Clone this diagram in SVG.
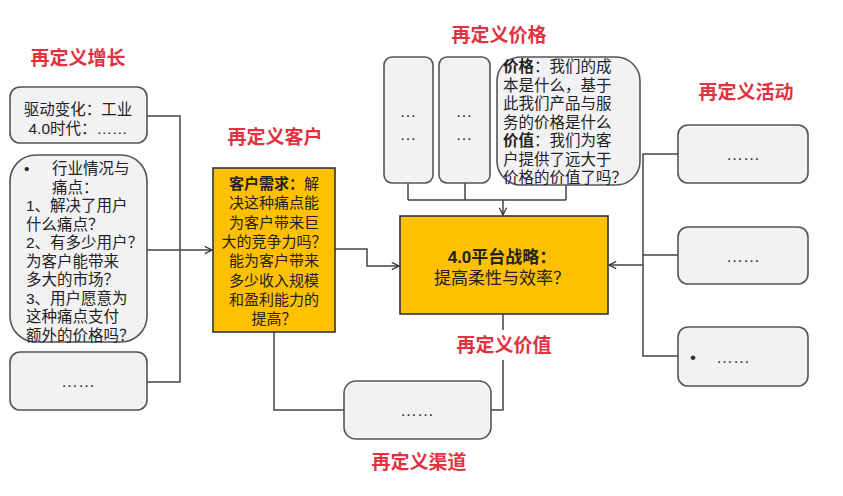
<svg xmlns="http://www.w3.org/2000/svg" width="843" height="496" viewBox="0 0 843 496">
<defs>
<marker id="arr" viewBox="0 0 10 10" refX="9" refY="5" markerWidth="9" markerHeight="9" markerUnits="userSpaceOnUse" orient="auto">
<path d="M1,1 L9,5 L1,9" fill="none" stroke="#333" stroke-width="1.4"/>
</marker>
<style>
.t{font-family:"Liberation Sans","Noto Sans CJK SC",sans-serif;font-size:19px;font-weight:bold;fill:#E3323F;text-anchor:middle}
.box{fill:#F2F2F4;stroke:#555;stroke-width:1.6}
.ybox{fill:#FFC000;stroke:#333;stroke-width:1.6}
.tx{font-family:"Liberation Sans","Noto Sans CJK SC",sans-serif;font-size:15px;fill:#222}
.b{font-weight:bold}
.dots{font-family:"Liberation Sans",sans-serif;font-size:17px;fill:#333;text-anchor:middle}
.ln{fill:none;stroke:#444;stroke-width:1.5}
</style>
</defs>
<rect width="843" height="496" fill="#fff"/>

<g id="titles">
<text class="t" x="78" y="65">再定义增长</text>
<text class="t" x="275" y="144">再定义客户</text>
<text class="t" x="499" y="42">再定义价格</text>
<text class="t" x="746" y="99">再定义活动</text>
<text class="t" x="504" y="352">再定义价值</text>
<text class="t" x="419" y="469">再定义渠道</text>
</g>

<g id="connectors">
<path class="ln" d="M147,116 H180 V382 H147"/>
<path class="ln" d="M147,250 H180"/>
<path class="ln" d="M180,250 H212" marker-end="url(#arr)"/>
<path class="ln" d="M335,249 H367 V266 H399" marker-end="url(#arr)"/>
<path class="ln" d="M408,183 V200 M465,183 V200 M566,185 V200 M408,200 H566"/>
<path class="ln" d="M503,200 V215" marker-end="url(#arr)"/>
<path class="ln" d="M678,154 H643 V356 H678 M643,255 H678"/>
<path class="ln" d="M643,265 H609" marker-end="url(#arr)"/>
<path class="ln" d="M274,332 V410 H344"/>
<path class="ln" d="M491,410 H503 V360 M503,330 V314"/>
</g>

<g id="growth1">
<rect class="box" x="10" y="87" width="137" height="56" rx="10"/>
<text class="tx" text-anchor="middle" style="font-size:15.5px"><tspan x="78" y="115">驱动变化：工业</tspan><tspan x="78" y="134">4.0时代：……</tspan></text>
</g>

<g id="growth2">
<rect class="box" x="10" y="155" width="137" height="187" rx="26"/>
<text class="tx" style="font-size:15.5px"><tspan x="24" y="174">•</tspan><tspan x="52" y="174">行业情况与</tspan><tspan x="52" y="192.5">痛点：</tspan><tspan x="26" y="211">1、解决了用户</tspan><tspan x="26" y="229.5">什么痛点？</tspan><tspan x="26" y="248">2、有多少用户？</tspan><tspan x="26" y="266.5">为客户能带来</tspan><tspan x="26" y="285">多大的市场？</tspan><tspan x="26" y="303.5">3、用户愿意为</tspan><tspan x="26" y="322">这种痛点支付</tspan><tspan x="26" y="340.5">额外的价格吗？</tspan></text>
</g>

<g id="growth3">
<rect class="box" x="10" y="352" width="137" height="58" rx="10"/>
<text class="dots" x="78" y="387">……</text>
</g>

<g id="customer">
<rect class="ybox" x="213" y="168" width="122" height="164"/>
<text class="tx" text-anchor="middle" style="font-size:15px"><tspan x="274" y="189"><tspan class="b">客户需求：</tspan>解</tspan><tspan x="274" y="208.3">决这种痛点能</tspan><tspan x="274" y="227.6">为客户带来巨</tspan><tspan x="274" y="246.9">大的竞争力吗？</tspan><tspan x="274" y="266.2">能为客户带来</tspan><tspan x="274" y="285.5">多少收入规模</tspan><tspan x="274" y="304.8">和盈利能力的</tspan><tspan x="274" y="324">提高？</tspan></text>
</g>

<g id="priceA">
<rect class="box" x="384" y="57" width="49" height="126" rx="8"/>
<text class="dots"><tspan x="408" y="117">…</tspan><tspan x="408" y="140">…</tspan></text>
</g>
<g id="priceB">
<rect class="box" x="439" y="57" width="51" height="126" rx="8"/>
<text class="dots"><tspan x="464" y="117">…</tspan><tspan x="464" y="140">…</tspan></text>
</g>
<g id="priceC">
<rect class="box" x="497" y="57" width="143" height="128" rx="24"/>
<text class="tx" style="font-size:15.5px"><tspan x="503" y="72"><tspan class="b">价格</tspan>：我们的成</tspan><tspan x="503" y="90.5">本是什么，基于</tspan><tspan x="503" y="109">此我们产品与服</tspan><tspan x="503" y="127.5">务的价格是什么</tspan><tspan x="503" y="146"><tspan class="b">价值</tspan>：我们为客</tspan><tspan x="503" y="164.5">户提供了远大于</tspan><tspan x="503" y="183">价格的价值了吗？</tspan></text>
</g>

<g id="platform">
<rect class="ybox" x="400" y="216" width="208" height="98"/>
<text class="tx" text-anchor="middle" style="font-size:17px"><tspan class="b" x="502" y="263">4.0平台战略：</tspan><tspan x="502" y="284">提高柔性与效率？</tspan></text>
</g>

<g id="activity1">
<rect class="box" x="678" y="125" width="130" height="58" rx="10"/>
<text class="dots" x="743" y="160">……</text>
</g>
<g id="activity2">
<rect class="box" x="678" y="227" width="130" height="57" rx="10"/>
<text class="dots" x="743" y="262">……</text>
</g>
<g id="activity3">
<rect class="box" x="678" y="327" width="130" height="59" rx="10"/>
<text class="dots"><tspan x="693" y="363">•</tspan><tspan x="733" y="363">……</tspan></text>
</g>

<g id="channel">
<rect class="box" x="344" y="381" width="147" height="58" rx="12"/>
<text class="dots" x="417" y="416">……</text>
</g>
</svg>
